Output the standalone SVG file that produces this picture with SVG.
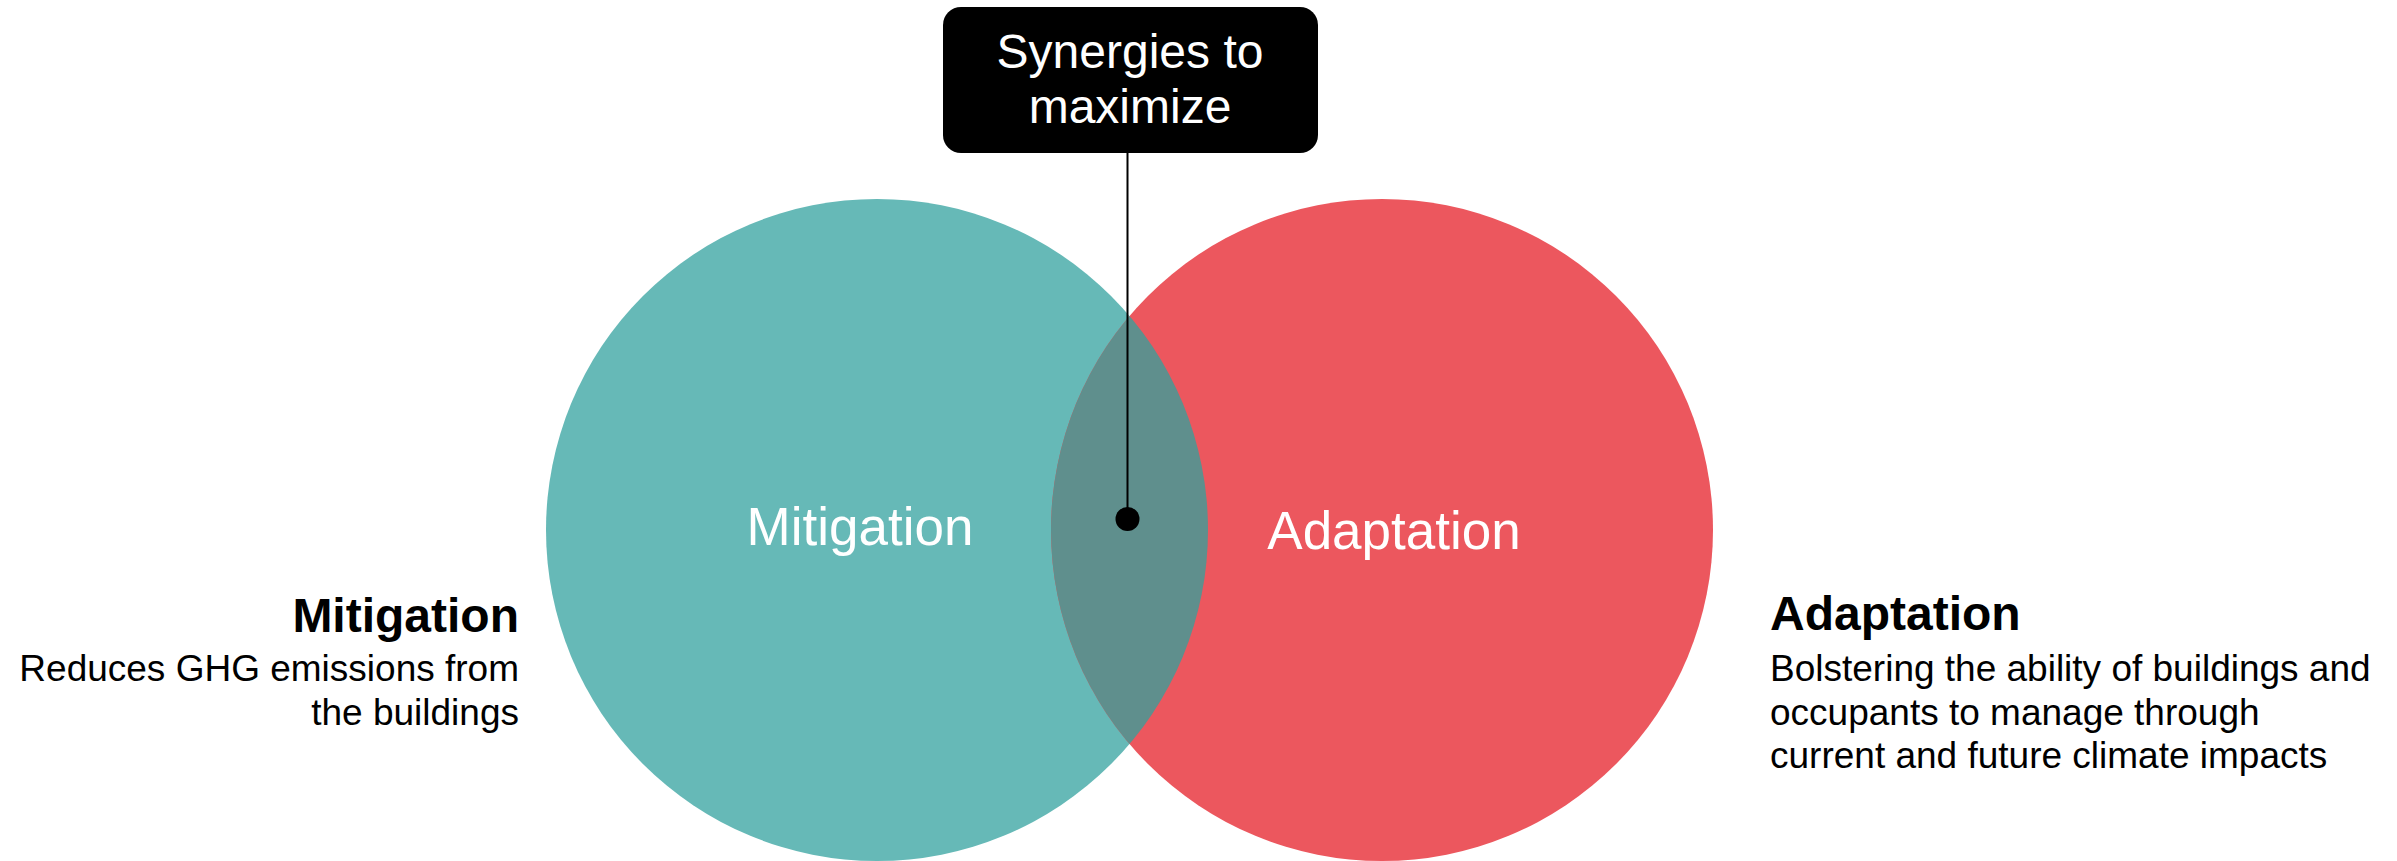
<svg xmlns="http://www.w3.org/2000/svg" width="2397" height="861" viewBox="0 0 2397 861">
<style>
text{font-family:"Liberation Sans",Arial,sans-serif}
.lbl{fill:#fff;font-size:53px;text-anchor:middle}
.hd{font-weight:bold;font-size:48px;fill:#000}
.bd{font-size:37px;fill:#000}
.box{fill:#fff;font-size:48px;text-anchor:middle}
</style>
<defs>
<clipPath id="clipL"><circle cx="877" cy="530" r="331"/></clipPath>
</defs>
<rect width="2397" height="861" fill="#fff"/>
<g id="mitigation">
<circle cx="877" cy="530" r="331" fill="#66B9B7"/>
</g>
<g id="adaptation">
<circle cx="1382" cy="530" r="331" fill="#EC575E"/>
</g>
<g id="overlap">
<circle cx="1382" cy="530" r="331" fill="#5F8F8D" clip-path="url(#clipL)"/>
</g>
<g id="circle-labels">
<text class="lbl" x="860" y="545">Mitigation</text>
<text class="lbl" x="1394" y="549">Adaptation</text>
</g>
<g id="connectors">
<line x1="1127.5" y1="153" x2="1127.5" y2="519" stroke="#000" stroke-width="2"/>
<circle cx="1127.5" cy="519" r="12" fill="#000"/>
</g>
<g id="synergies">
<rect x="943" y="7" width="375" height="146" rx="18" fill="#000"/>
<text class="box" x="1130" y="68">Synergies to</text>
<text class="box" x="1130" y="123">maximize</text>
</g>
<g id="mitigation-text" text-anchor="end">
<text class="hd" x="519" y="632">Mitigation</text>
<text class="bd" x="519" y="681">Reduces GHG emissions from</text>
<text class="bd" x="519" y="725">the buildings</text>
</g>
<g id="adaptation-text">
<text class="hd" x="1770" y="630">Adaptation</text>
<text class="bd" x="1770" y="681">Bolstering the ability of buildings and</text>
<text class="bd" x="1770" y="725">occupants to manage through</text>
<text class="bd" x="1770" y="768">current and future climate impacts</text>
</g>
</svg>
